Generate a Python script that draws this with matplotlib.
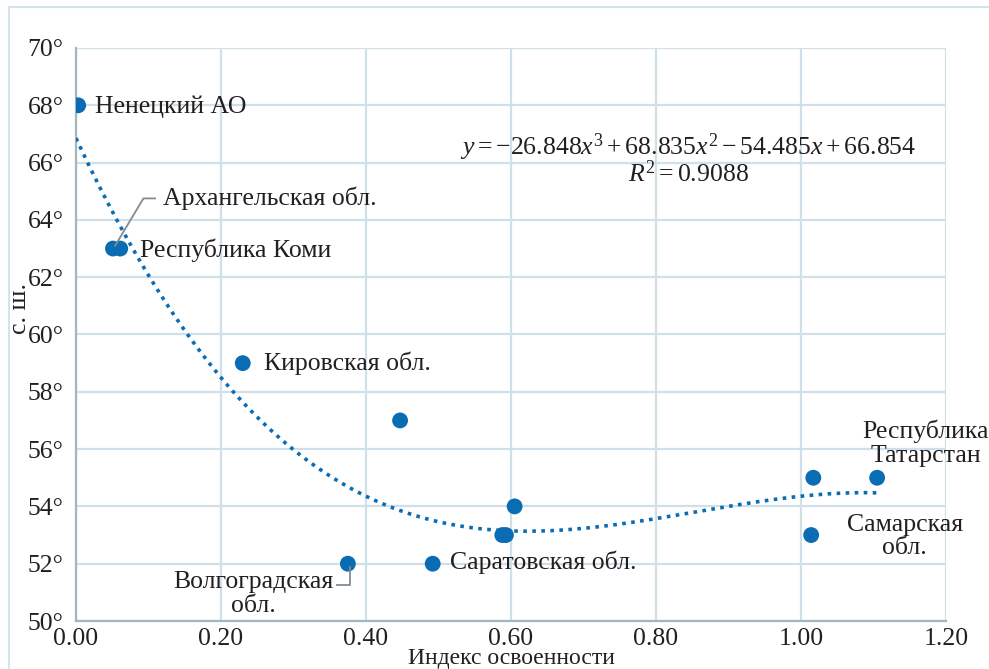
import matplotlib
matplotlib.use("Agg")
import matplotlib.pyplot as plt
from matplotlib.lines import Line2D
import numpy as np

# данные: индекс освоенности и широта (° с. ш.)
index_vals = [0.003, 0.051, 0.061, 0.230, 0.447, 0.375, 0.492, 0.588, 0.593, 0.605, 1.014, 1.017, 1.105]
lat_vals = [68, 63, 63, 59, 57, 52, 52, 53, 53, 54, 53, 55, 55]

# коэффициенты полиномиального тренда (из уравнения на графике)
trend_coef = [-26.848, 68.835, -54.485, 66.854]
trend_range = [0.0, 1.105]

x_ticks = [0.0, 0.2, 0.4, 0.6, 0.8, 1.0, 1.2]
y_ticks = [50, 52, 54, 56, 58, 60, 62, 64, 66, 68, 70]

plt.rcParams['font.family'] = ['Liberation Serif', 'DejaVu Serif']
plt.rcParams['mathtext.fontset'] = 'custom'
plt.rcParams['mathtext.rm'] = 'Liberation Serif'
plt.rcParams['mathtext.it'] = 'Liberation Serif:italic'

dot_color = '#0a6db3'
grid_color = '#cfe0e8'
text_color = '#231f20'
fs = 18.5

fig = plt.figure(figsize=(9.89, 6.69), dpi=100)
ax = fig.add_axes([76 / 989, 1 - 621 / 669, 870 / 989, 573 / 669])

# рамка вокруг рисунка
fig.add_artist(Line2D([9 / 989, 9 / 989], [0, 1 - 7 / 669], transform=fig.transFigure, color='#d5e3ea', lw=1.5))
fig.add_artist(Line2D([9 / 989, 1], [1 - 7 / 669, 1 - 7 / 669], transform=fig.transFigure, color='#d5e3ea', lw=1.5))

xs = np.linspace(trend_range[0], trend_range[1], 200)
ax.plot(xs, np.polyval(trend_coef, xs), color=dot_color, lw=2.6, linestyle=(0, (1, 1.5)), zorder=3)
ax.scatter(index_vals, lat_vals, s=130, color=dot_color, zorder=4, edgecolors='none')

ax.set_xlim(0, 1.2)
ax.set_ylim(50, 70)
ax.set_xticks(x_ticks)
ax.set_yticks(y_ticks)
ax.set_xticklabels(["%.2f" % v for v in x_ticks])
ax.set_yticklabels(["%d°" % v for v in y_ticks])
ax.tick_params(length=0, labelsize=fs, colors=text_color)
ax.tick_params(axis='y', pad=9)
ax.tick_params(axis='x', pad=5)
ax.grid(True, color=grid_color, lw=1.6)
ax.set_axisbelow(True)
for side in ['top', 'right']:
    ax.spines[side].set_visible(False)
for side in ['left', 'bottom']:
    ax.spines[side].set_color('#a3b6c0')
    ax.spines[side].set_linewidth(1.6)

# подписи осей
ax.text(0.5, -43 / 573, "Индекс освоенности", transform=ax.transAxes, ha='center', va='baseline',
        fontsize=17, color=text_color)
ax.text(-56 / 870, 0.545, "с. ш.", transform=ax.transAxes, rotation=90, ha='center', va='center',
        fontsize=fs, color=text_color)

# подписи регионов
kw = dict(fontsize=fs, color=text_color, va='center')
ax.text(0.026, 67.95, "Ненецкий АО", **kw)
ax.text(0.120, 64.75, "Архангельская обл.", **kw)
ax.text(0.088, 62.95, "Республика Коми", **kw)
ax.text(0.259, 59.0, "Кировская обл.", **kw)
ax.text(0.516, 52.05, "Саратовская обл.", **kw)
ax.text(0.245, 50.95, "Волгоградская\nобл.", ha='center', linespacing=1.1, **kw)
ax.text(1.172, 56.2, "Республика\nТатарстан", ha='center', linespacing=1.1, **kw)
ax.text(1.143, 52.95, "Самарская\nобл.", ha='center', linespacing=1.1, **kw)

# выноски
ax.plot([0.054, 0.093, 0.109], [63.1, 64.75, 64.75], color='#7f8c92', lw=1.3, zorder=5)
ax.plot([0.378, 0.378, 0.360], [51.9, 51.25, 51.25], color='#7f8c92', lw=1.3, zorder=5)

# уравнение тренда
ax.text(0.845, 66.55, r"$y = -26.848x^3 + 68.835x^2 - 54.485x + 66.854$",
        ha='center', va='center', fontsize=fs, color=text_color)
ax.text(0.845, 65.6, r"$R^2 = 0.9088$", ha='center', va='center', fontsize=fs, color=text_color)

fig.savefig("out.png", dpi=100, facecolor='white')
